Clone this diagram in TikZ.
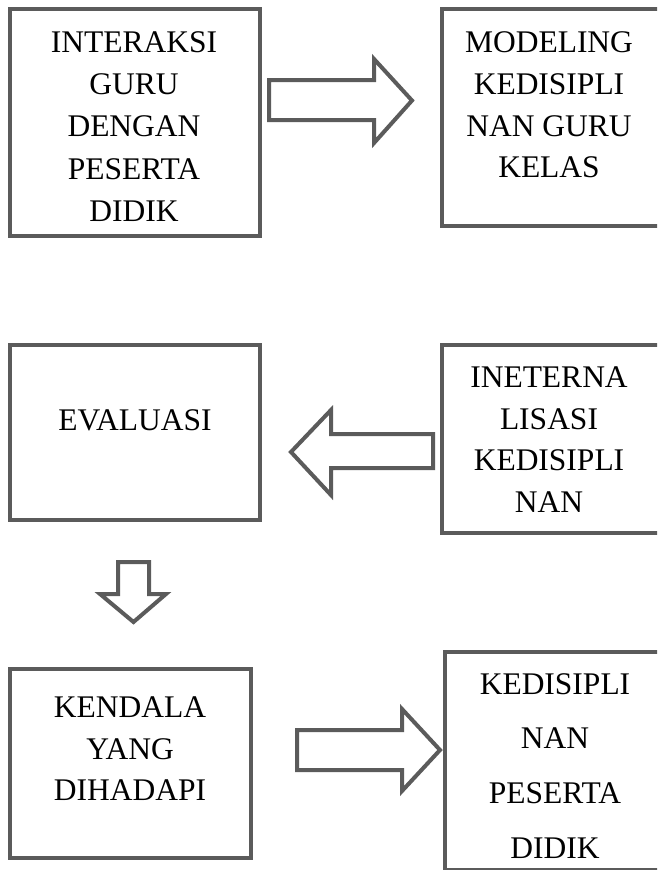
\documentclass[tikz,border=0pt]{standalone}
\usepackage{fontspec}
\setmainfont{Liberation Serif}
\definecolor{edge}{HTML}{5B5B5B}
\tikzset{
  box/.style={draw=edge, line width=4pt, rectangle, inner sep=0pt, outer sep=0pt},
  txt/.style={anchor=base, inner sep=0pt, text=black, font=\fontsize{31.5}{38}\selectfont},
  blockarrow/.style={draw=edge, line width=4pt, line join=miter, fill=white}
}
\begin{document}
\begin{tikzpicture}[x=1pt,y=-1pt]
\useasboundingbox (0,0) rectangle (657,870);
\clip (0,0) rectangle (657,870);
\fill[white] (0,0) rectangle (657,870);

% boxes (stroke centre lines)
\node[box, minimum width=250, minimum height=227] (b1) at (135,122.5) {};
\node[box, minimum width=238, minimum height=217] (b2) at (561,117.5) {};
\node[box, minimum width=250, minimum height=175] (b3) at (135,432.5) {};
\node[box, minimum width=238, minimum height=188] (b4) at (561,439) {};
\node[box, minimum width=241, minimum height=189] (b5) at (130.5,763.5) {};
\node[box, minimum width=235, minimum height=218] (b6) at (562.5,761) {};

% texts
\node[txt] (t1a) at (134,52.4) {INTERAKSI};
\node[txt] (t1b) at (134,94.6) {GURU};
\node[txt] (t1c) at (134,136.8) {DENGAN};
\node[txt] (t1d) at (134,179) {PESERTA};
\node[txt] (t1e) at (134,221) {DIDIK};

\node[txt] (t2a) at (549,52.4) {MODELING};
\node[txt] (t2b) at (549,94) {KEDISIPLI};
\node[txt] (t2c) at (549,136.5) {NAN GURU};
\node[txt] (t2d) at (549,177.5) {KELAS};

\node[txt] (t3a) at (135,430.4) {EVALUASI};

\node[txt] (t4a) at (549,387.4) {INETERNA};
\node[txt] (t4b) at (549,429) {LISASI};
\node[txt] (t4c) at (549,470.4) {KEDISIPLI};
\node[txt] (t4d) at (549,512) {NAN};

\node[txt] (t5a) at (130,717.4) {KENDALA};
\node[txt] (t5b) at (130,759) {YANG};
\node[txt] (t5c) at (130,800.4) {DIHADAPI};

\node[txt] (t6a) at (555,694.4) {KEDISIPLI};
\node[txt] (t6b) at (555,748.4) {NAN};
\node[txt] (t6c) at (555,803.4) {PESERTA};
\node[txt] (t6d) at (555,858.4) {DIDIK};

% block arrows
\draw[blockarrow] (269,80) -- (374,80) -- (374,59) -- (412,100.5) -- (374,143) -- (374,120) -- (269,120) -- cycle;
\draw[blockarrow] (433,434) -- (331,434) -- (331,410) -- (291,452) -- (331,495) -- (331,468) -- (433,468) -- cycle;
\draw[blockarrow] (118,562) -- (149,562) -- (149,594) -- (166,594) -- (133.5,622) -- (100,594) -- (118,594) -- cycle;
\draw[blockarrow] (297,730) -- (402,730) -- (402,709) -- (440,750) -- (402,791) -- (402,770) -- (297,770) -- cycle;
\end{tikzpicture}
\end{document}
